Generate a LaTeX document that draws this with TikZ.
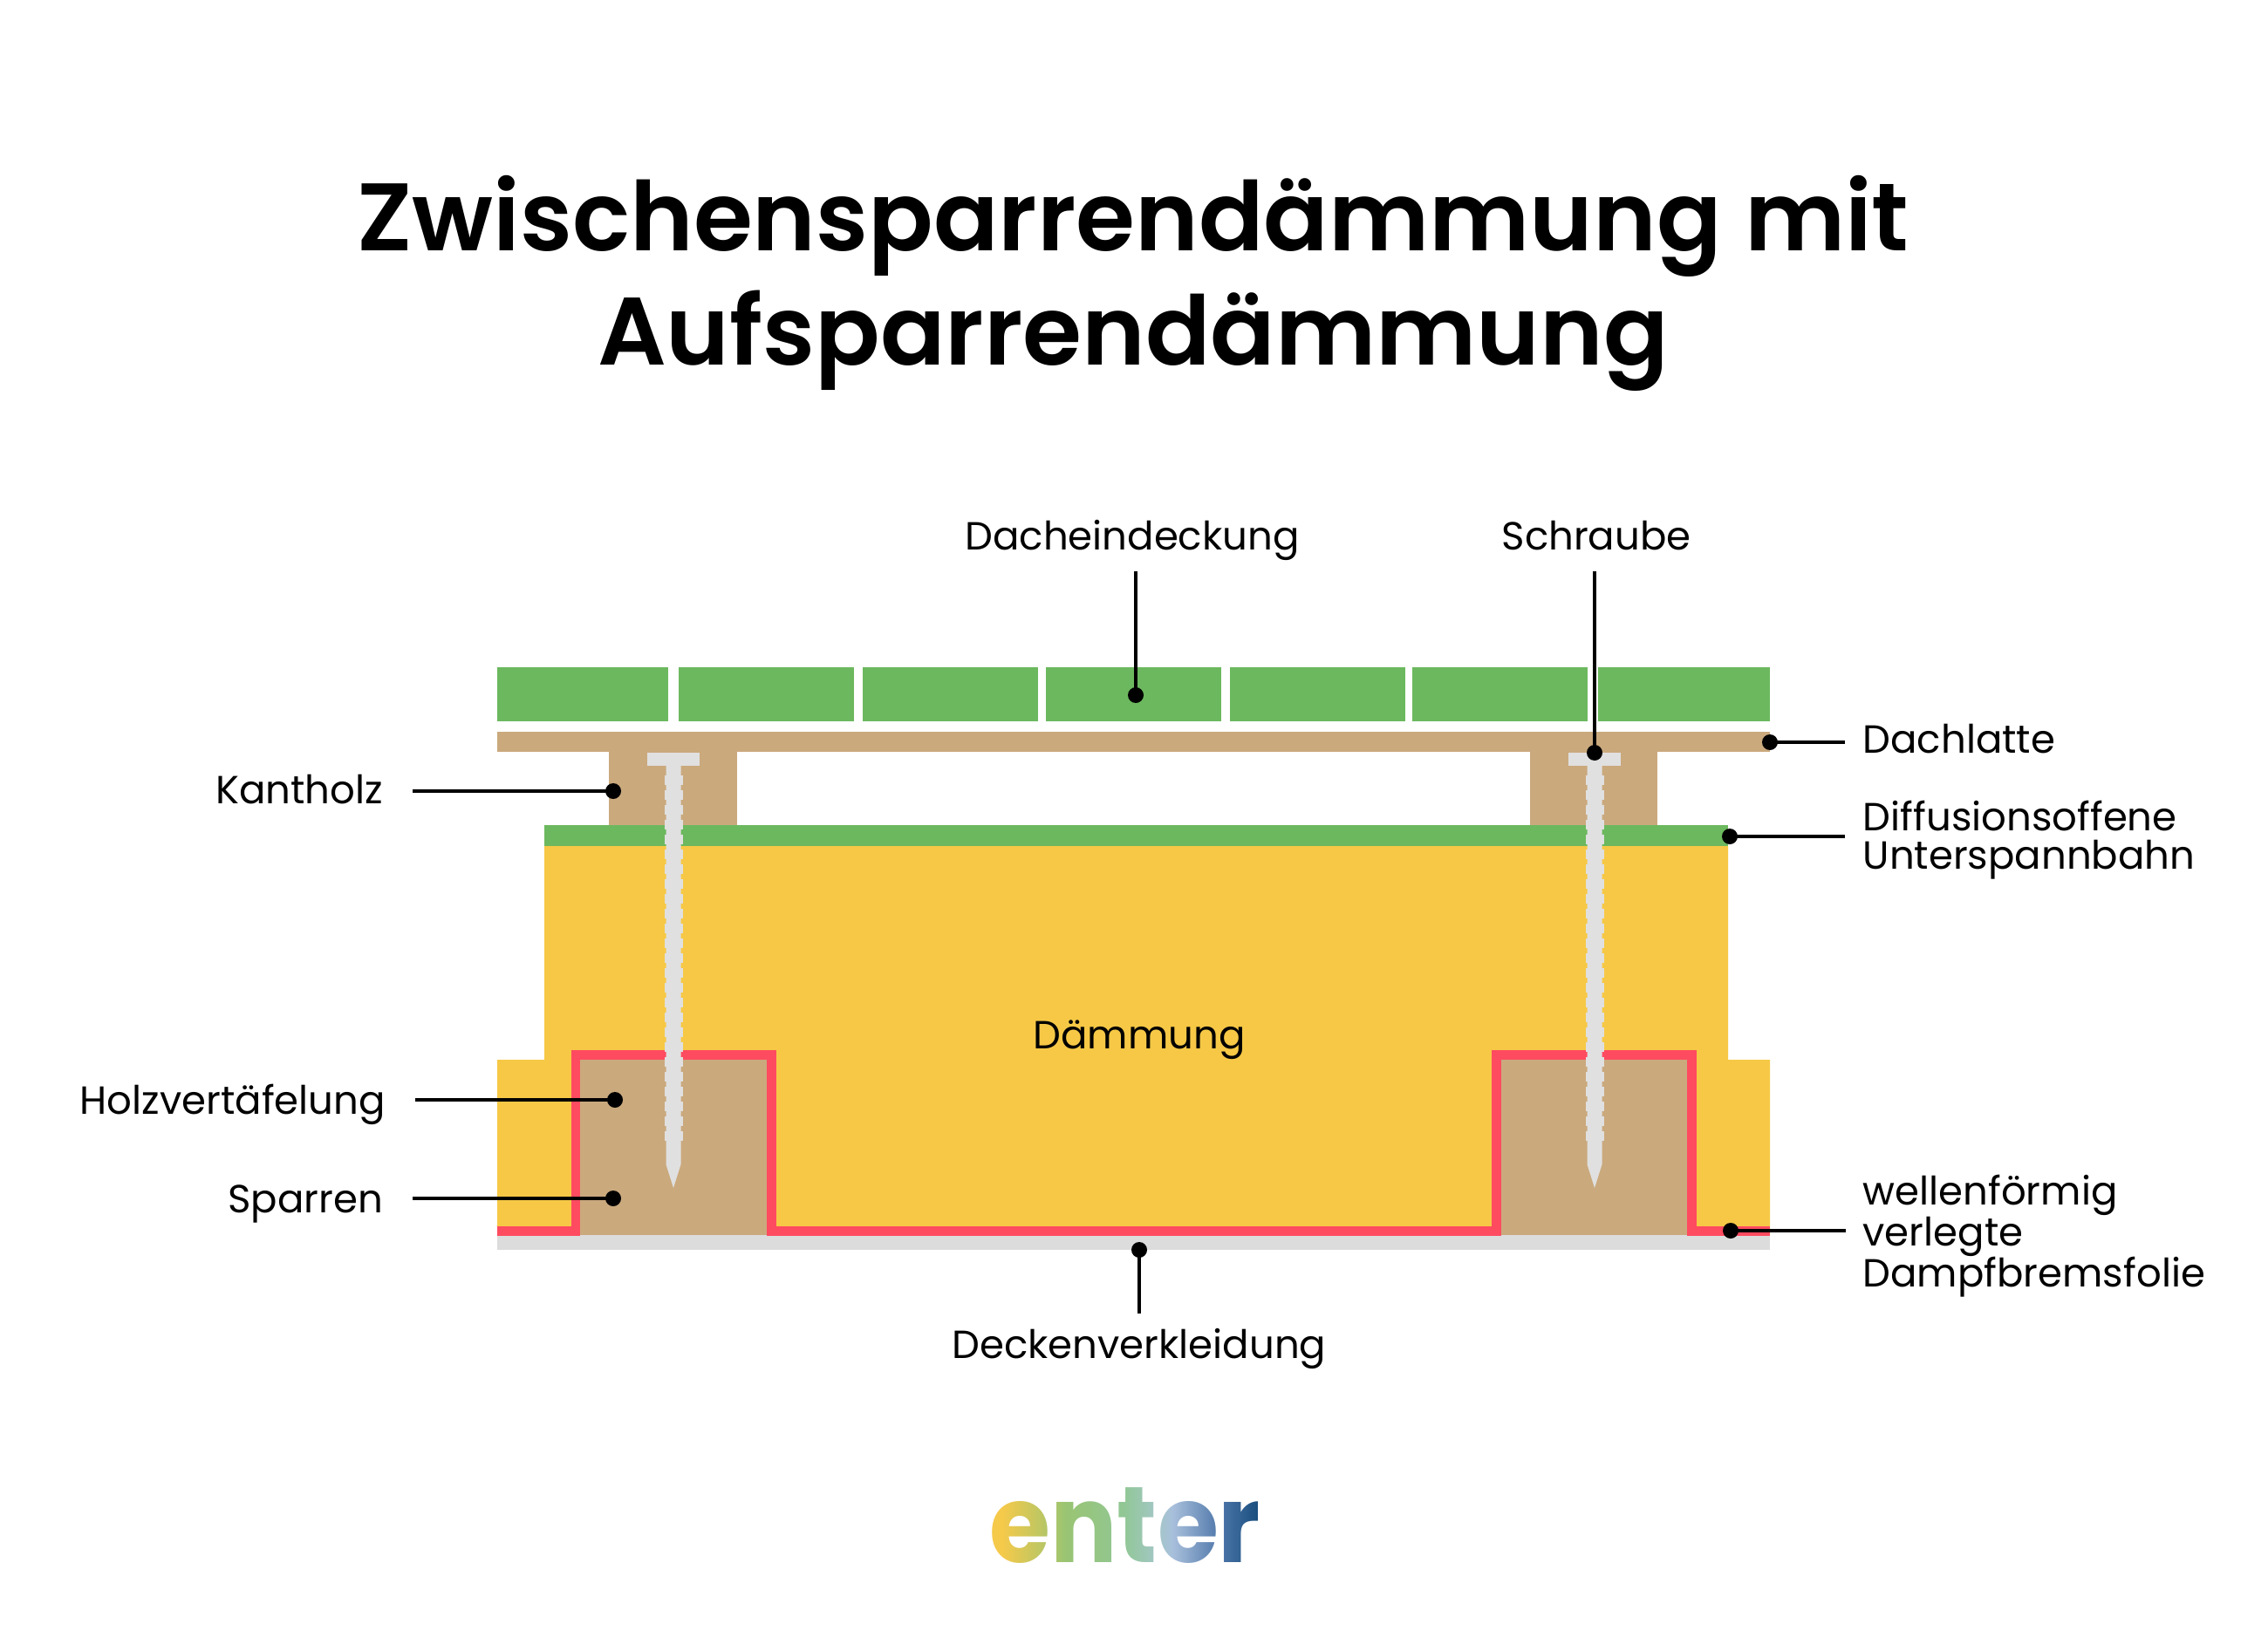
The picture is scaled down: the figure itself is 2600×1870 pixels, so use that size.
\documentclass[tikz,border=0pt]{standalone}
\usepackage{fontspec}
\setmainfont{Poppins}
\newfontfamily\titlefont{Poppins SemiBold}
\usetikzlibrary{fadings}
\definecolor{tilegreen}{RGB}{108,184,94}
\definecolor{woodbrown}{RGB}{202,169,125}
\definecolor{insyellow}{RGB}{246,200,70}
\definecolor{foilred}{RGB}{255,75,96}
\definecolor{boardgray}{RGB}{220,220,220}
\definecolor{screwgray}{RGB}{224,224,224}
\pgfdeclarehorizontalshading{entershade}{100bp}{
 rgb(0bp)=(0.96,0.79,0.29);
 rgb(27bp)=(0.96,0.79,0.29);
 rgb(39bp)=(0.60,0.77,0.45);
 rgb(50bp)=(0.57,0.78,0.59);
 rgb(56bp)=(0.64,0.78,0.78);
 rgb(59bp)=(0.66,0.75,0.86);
 rgb(68bp)=(0.30,0.46,0.66);
 rgb(75bp)=(0.10,0.31,0.50);
 rgb(100bp)=(0.10,0.31,0.50)}
\begin{tikzfadingfrompicture}[name=enterfade]
 \node[text=transparent!0,inner sep=0pt,yscale=1.09,font=\bfseries\fontsize{113.5}{114}\selectfont] at (0,0) {enter};
\end{tikzfadingfrompicture}
\tikzset{
 x=1pt,y=-1pt,
 dotn/.style={circle,fill=black,inner sep=0pt,minimum size=18pt},
 lead/.style={draw=black,line width=3.2pt},
 lbl/.style={inner sep=0pt,text=black,font=\fontsize{45}{44}\selectfont},
 tile/.style={fill=tilegreen},
 wood/.style={fill=woodbrown},
 foil/.style={draw=foilred,line width=10.5pt,line join=miter},
}
\newcommand{\myscrew}[1]{%
 \begin{scope}[shift={(#1,0)}]
  \fill[screwgray] (-30,863) rectangle (30,878);
  \fill[screwgray] (-8.5,878) -- (8.5,878) -- (8.5,1335) -- (0,1362) -- (-8.5,1335) -- cycle;
  \foreach \k in {0,...,24} {
   \fill[screwgray] (-10.5,1296.5-17*\k) rectangle (10.5,1307.5-17*\k);
  }
 \end{scope}}
\begin{document}
\begin{tikzpicture}
\useasboundingbox (0,0) rectangle (2600,1870);
\fill[white] (0,0) rectangle (2600,1870);
% tiles
\foreach \a/\b in {570/766,778/979,989/1190,1199/1400,1410/1611,1619/1820,1832/2029}
 \fill[tile] (\a,765) rectangle (\b,827);
% batten and counter battens
\fill[wood] (570,839) rectangle (2029,862);
\fill[wood] (698,862) rectangle (845,946);
\fill[wood] (1754,862) rectangle (1900,946);
% insulation
\fill[insyellow] (624,970) -- (1981,970) -- (1981,1215) -- (2029,1215) -- (2029,1416) -- (570,1416) -- (570,1215) -- (624,1215) -- cycle;
\fill[tile] (624,946) rectangle (1981,970);
% rafters
\fill[wood] (660,1215) rectangle (884,1416);
\fill[wood] (1716,1215) rectangle (1939,1416);
% ceiling
\fill[boardgray] (570,1416) rectangle (2029,1433);
% vapour foil
\draw[foil] (570,1411.5) -- (660,1411.5) -- (660,1209.5) -- (884.5,1209.5) -- (884.5,1411.5) -- (1715.5,1411.5) -- (1715.5,1209.5) -- (1939.5,1209.5) -- (1939.5,1411.5) -- (2029,1411.5);
% brown re-cover of rafter feet
\fill[wood] (665,1407) rectangle (879,1416);
\fill[wood] (1721,1407) rectangle (1934,1416);
% screws
\myscrew{772}
\myscrew{1828}
% title
\node[inner sep=0pt,align=center,text=black,font=\titlefont\fontsize{110}{131}\selectfont] (title) at (1299,325) {Zwischensparrendämmung mit\\Aufsparrendämmung};
% labels
\node[lbl,anchor=base] (tDach) at (1298,630) {Dacheindeckung};
\node[lbl,anchor=base] (tSchr) at (1830,630) {Schraube};
\node[lbl,anchor=base east] (tKant) at (439,921.5) {Kantholz};
\node[lbl,anchor=base east] (tHolz) at (442,1277.5) {Holzvertäfelung};
\node[lbl,anchor=base east] (tSpar) at (439,1390) {Sparren};
\node[lbl,anchor=base west] (tLatt) at (2135.5,863) {Dachlatte};
\node[lbl,anchor=west,align=left] (tDiff) at (2135.5,963) {Diffusionsoffene\\Unterspannbahn};
\node[lbl,anchor=west,align=left,font=\fontsize{45}{43.5}\selectfont] (tWell) at (2135.5,1417.5) {wellenförmig\\verlegte\\Dampfbremsfolie};
\node[lbl,anchor=base] (tDeck) at (1306,1557.5) {Deckenverkleidung};
\node[lbl,anchor=base] (tDaem) at (1306,1202) {Dämmung};
% leader ends
\coordinate (eDach) at (1302,655);
\coordinate (eSchr) at (1828,655);
\coordinate (eKant) at (473,907);
\coordinate (eHolz) at (476,1261);
\coordinate (eSpar) at (473,1374);
\coordinate (eLatt) at (2115,851);
\coordinate (eDiff) at (2115,959);
\coordinate (eWell) at (2116,1411);
\coordinate (eDeck) at (1306,1506);
% dots
\node[dotn] (dDach) at (1302,797) {};
\node[dotn] (dSchr) at (1828,863) {};
\node[dotn] (dKant) at (703,907) {};
\node[dotn] (dHolz) at (705,1261) {};
\node[dotn] (dSpar) at (703,1374) {};
\node[dotn] (dLatt) at (2029,851) {};
\node[dotn] (dDiff) at (1983,959) {};
\node[dotn] (dWell) at (1984,1411) {};
\node[dotn] (dDeck) at (1306,1433) {};
% leaders
\foreach \n in {Dach,Schr,Kant,Holz,Spar,Latt,Diff,Well,Deck}
 \draw[lead] (e\n) -- (d\n.center);
% logo
\shade[shading=entershade,path fading=enterfade,fit fading=false,fading transform={shift={(1290,1749)}}] (1137,1690) rectangle (1442,1810);
\end{tikzpicture}
\end{document}
